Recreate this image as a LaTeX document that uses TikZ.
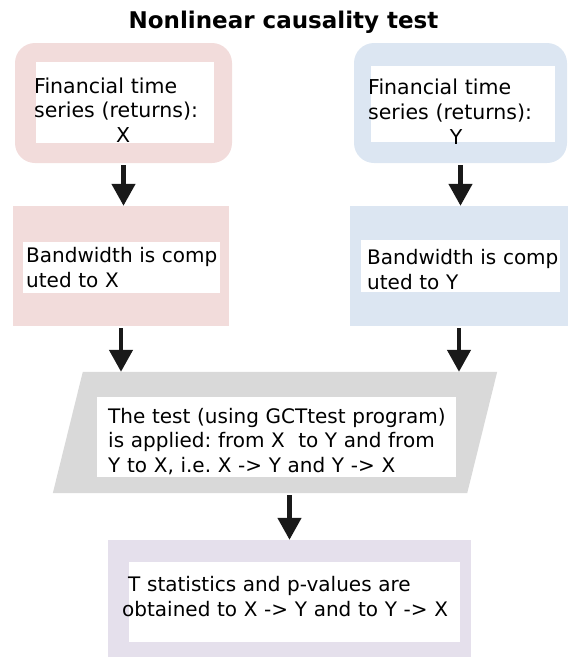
\documentclass[tikz,border=0pt]{standalone}
\usepackage{fontspec}
\setmainfont{DejaVu Sans}
\usepackage{xcolor}
\definecolor{pinkX}{HTML}{F2DCDB}
\definecolor{blueY}{HTML}{DCE6F2}
\definecolor{grayTest}{HTML}{D9D9D9}
\definecolor{lilacRes}{HTML}{E5E0EC}
\usetikzlibrary{arrows.meta,calc}
\frenchspacing
\begin{document}
\begin{tikzpicture}[x=1pt,y=-1pt,
 box/.style={fill=#1,inner sep=0pt,minimum height=120pt},
 pane/.style={fill=white,inner sep=0pt},
 txt/.style={anchor=north west,inner sep=0pt,text width=#1,align=left,
 font=\fontsize{20}{24.5}\selectfont},
 arr/.style={-{Triangle[length=22pt,width=23pt]},line width=4.5pt,draw=black!90,shorten <=2pt}]
 \useasboundingbox (0,0) rectangle (568,657);
 \node[font=\bfseries\fontsize{23}{27}\selectfont,anchor=base] (title) at (283.5,28.3) {Nonlinear causality test};
 % series
 \node[box=pinkX,rounded corners=20pt,minimum width=217pt] (serX) at (123.5,103) {};
 \node[pane,minimum width=178pt,minimum height=81pt] (serXin) at (125,102.5) {};
 \node[txt=178pt,font=\fontsize{20.5}{24.8}\selectfont] (serXtxt) at (34,77.4)
 {Financial time\\series (returns):\\\makebox[\linewidth]{X}};
 \node[box=blueY,rounded corners=20pt,minimum width=213pt] (serY) at (460.5,103) {};
 \node[pane,minimum width=184pt,minimum height=76pt] (serYin) at (463,104) {};
 \node[txt=176pt,font=\fontsize{20.5}{24.8}\selectfont] (serYtxt) at (368,79)
 {Financial time\\series (returns):\\\makebox[\linewidth]{Y}};
 % bandwidth
 \node[box=pinkX,minimum width=216pt] (bwX) at (121,266) {};
 \node[pane,minimum width=197pt,minimum height=51pt] (bwXin) at (121.5,267.5) {};
 \node[txt=195pt] (bwXtxt) at (26,247.4) {Bandwidth is comp\\uted to X};
 \node[box=blueY,minimum width=218pt] (bwY) at (459,266) {};
 \node[pane,minimum width=199pt,minimum height=52pt] (bwYin) at (460.5,266) {};
 \node[txt=195pt] (bwYtxt) at (367,249.4) {Bandwidth is comp\\uted to Y};
 % test (parallelogram)
 \node[inner sep=0pt,minimum width=444pt,minimum height=121pt] (test) at (275,432.5) {};
 \fill[grayTest] (test.south west) -- ($(test.north west)+(30,0)$) -- (test.north east)
 -- ($(test.south east)+(-30,0)$) -- cycle;
 \node[pane,minimum width=359pt,minimum height=80pt] (testin) at (276.5,437) {};
 \node[txt=352pt] (testtxt) at (108,407.8) {The test (using GCTtest program)\\
 is applied: from X\ \ to Y and from\\Y to X, i.e. X -> Y and Y -> X};
 % results
 \node[box=lilacRes,minimum width=363pt,minimum height=117pt] (res) at (289.5,598.5) {};
 \node[pane,minimum width=331pt,minimum height=80pt] (resin) at (294.5,602) {};
 \node[txt=340pt] (restxt) at (122,576.4) {\hspace*{6pt}T statistics and p-values are\\
 obtained to X -> Y and to Y -> X};
 \draw[arr] (serX.south) -- (serX.south |- bwX.north);
 \draw[arr] (serY.south) -- (serY.south |- bwY.north);
 \draw[arr] (bwX.south) -- (bwX.south |- test.north);
 \draw[arr] (bwY.south) -- (bwY.south |- test.north);
 \draw[arr] (res.north |- test.south) -- (res.north);
\end{tikzpicture}
\end{document}
